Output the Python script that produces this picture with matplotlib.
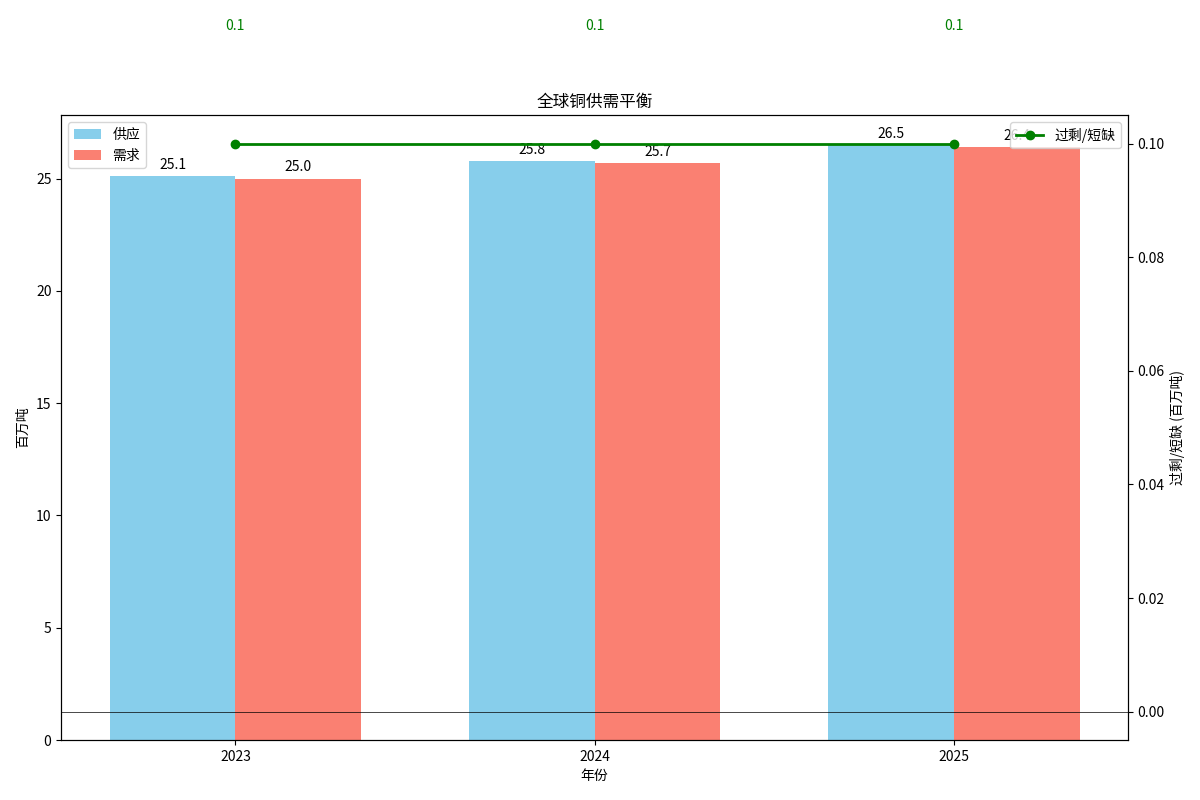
import matplotlib
matplotlib.use("Agg")
import matplotlib.pyplot as plt
import numpy as np

plt.rcParams['font.family'] = ['Noto Sans CJK SC', 'DejaVu Sans']
plt.rcParams['axes.unicode_minus'] = False

years = ['2023', '2024', '2025']
supply = [25.1, 25.8, 26.5]
demand = [25.0, 25.7, 26.4]
balance = [0.1, 0.1, 0.1]

fig, ax1 = plt.subplots(figsize=(12, 8), dpi=100)
fig.subplots_adjust(left=0.051, right=0.94, top=0.856, bottom=0.075)

x = np.arange(len(years))
w = 0.35
b1 = ax1.bar(x - w/2, supply, w, color='skyblue', label='供应')
b2 = ax1.bar(x + w/2, demand, w, color='salmon', label='需求')
for bars in (b1, b2):
    for b in bars:
        ax1.annotate(f'{b.get_height():.1f}', (b.get_x() + b.get_width()/2, b.get_height()),
                     xytext=(0, 3), textcoords='offset points', ha='center', va='bottom')
ax1.set_xticks(x)
ax1.set_xticklabels(years)
ax1.set_xlabel('年份')
ax1.set_ylabel('百万吨')
ax1.set_title('全球铜供需平衡')
ax1.legend(loc='upper left')

ax2 = ax1.twinx()
ax2.plot(x, balance, color='green', marker='o', linewidth=2, label='过剩/短缺')
ax2.axhline(0, color='black', linewidth=0.5)
for xi, v in zip(x, balance):
    ax2.text(xi, v + 0.02, f'{v:.1f}', ha='center', color='green')
ax2.set_ylim(-0.005, 0.105)
ax2.set_ylabel('过剩/短缺 (百万吨)')
ax2.legend(loc='upper right')

fig.savefig('out.png')
